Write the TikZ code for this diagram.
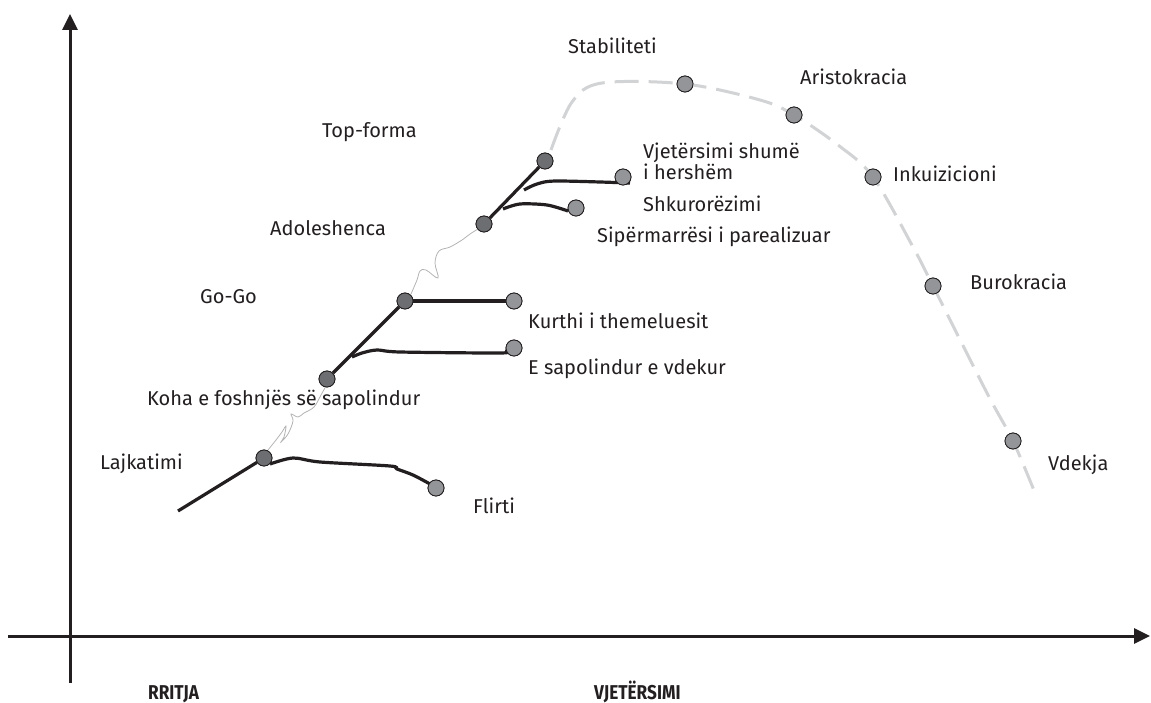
\documentclass[tikz,border=0pt]{standalone}
\usepackage{fontspec}
\usepackage{graphicx}
\setmainfont{Fira Sans}
\usetikzlibrary{arrows.meta}
\definecolor{ink}{HTML}{231F20}
\definecolor{darkdot}{HTML}{6D6E71}
\definecolor{lightdot}{HTML}{939598}
\definecolor{dashgray}{HTML}{D1D3D4}
\definecolor{wavegray}{HTML}{B3B3B3}
\tikzset{
  lbl/.style={anchor=west, inner sep=0pt, text height=14pt, text depth=0pt, text=ink, font=\fontsize{20}{21}\selectfont},
  bold/.style={lbl, font=\fontsize{20}{21}\selectfont\bfseries},
  ddot/.style={circle, draw=ink, line width=0.8pt, fill=darkdot, minimum size=16pt, inner sep=0pt},
  ldot/.style={circle, draw=ink, line width=0.8pt, fill=lightdot, minimum size=16pt, inner sep=0pt},
  axis/.style={ink, line width=3pt, -{Triangle[length=16pt,width=15pt]}},
  thick black/.style={ink, line width=3.2pt},
  wave/.style={wavegray, line width=0.8pt},
  lifecurve/.style={dashgray, line width=3pt, dash pattern=on 24pt off 10pt},
}
\begin{document}
\begin{tikzpicture}[x=1pt,y=-1pt]
\useasboundingbox (0,0) rectangle (1151,703);
% axes
\coordinate (yb) at (70,683);
\coordinate (yt) at (70,14);
\coordinate (xl) at (8,636);
\coordinate (xr) at (1150,636);
\draw[axis] (yb) -- (yt);
\draw[axis] (xl) -- (xr);

% dots
\node[ddot] (laj) at (264,458) {};
\node[ldot] (flirt) at (436,488) {};
\node[ddot] (koha) at (327,379) {};
\node[ldot] (sap) at (514,348) {};
\node[ddot] (gogo) at (405,301) {};
\node[ldot] (kurth) at (514,301) {};
\node[ddot] (adol) at (484,224) {};
\node[ldot] (shk) at (576,208) {};
\node[ddot] (top) at (545,161) {};
\node[ldot] (vj) at (623,177) {};
\node[ldot] (stab) at (685,84) {};
\node[ldot] (arist) at (794,115) {};
\node[ldot] (ink) at (873,177) {};
\node[ldot] (bur) at (933,286) {};
\node[ldot] (vd) at (1013,441) {};

% intermediate coordinates
\coordinate (lstart) at (178,511);
\coordinate (c1) at (572,102);
\coordinate (c2) at (602,83);
\coordinate (c3) at (760,100);
\coordinate (c4) at (838,145);
\coordinate (c5) at (913,247);
\coordinate (c6) at (987,393);
\coordinate (cend) at (1035,493);

% dashed life curve
\draw[lifecurve] plot[smooth, tension=0.55] coordinates {(551,150) (c1) (c2) (stab) (c3) (arist) (c4) (ink) (c5) (bur) (c6) (vd) (cend)};

% wavy lines
\draw[wave] plot[smooth, tension=0.6] coordinates {(268,450) (276,440) (282,432) (286,426) (284,437) (281,442) (288,434) (293,421) (291,414) (298,417) (304,413) (314,407) (321,395) (326,386)};
\draw[wave] plot[smooth, tension=0.6] coordinates {(411,294) (417,280) (420,271) (426,270) (438,278) (435,263) (439,251) (450,247) (462,240) (470,234) (478,229)};

% black branches
\draw[thick black] (lstart) -- (laj);
\draw[thick black] plot[smooth, tension=0.5] coordinates {(270,464) (293,458) (320,462) (390,466) (397,469) (413,475) (430,484)};
\draw[thick black] (koha) -- (gogo);
\draw[thick black] plot[smooth, tension=0.5] coordinates {(352,357) (362,353) (377,350) (400,352) (500,353) (505,351)};
\draw[thick black] (gogo) -- (kurth);
\draw[thick black] (adol) -- (top);
\draw[thick black] plot[smooth, tension=0.5] coordinates {(503,209) (520,204) (547,205) (568,211)};
\draw[thick black] plot[smooth, tension=0.5] coordinates {(524,190) (537,184) (557,181) (630,183)};

% redraw dots on top of the lines
\foreach \n/\s in {laj/ddot, flirt/ldot, koha/ddot, sap/ldot, gogo/ddot, kurth/ldot, adol/ddot, shk/ldot, top/ddot, vj/ldot, stab/ldot, arist/ldot, ink/ldot, bur/ldot, vd/ldot}
  \node[\s] at (\n) {};

% labels
\node[lbl] (tStab) at (568,47) {Stabiliteti};
\node[lbl] (tArist) at (800,78) {Aristokracia};
\node[lbl] (tTop) at (322,131) {Top-forma};
\node[lbl] (tVj1) at (643,152) {Vjetërsimi shumë};
\node[lbl] (tVj2) at (643,173) {i hershëm};
\node[lbl] (tInk) at (893,175) {Inkuizicioni};
\node[lbl] (tShk) at (643,205) {Shkurorëzimi};
\node[lbl] (tAdol) at (270,229) {Adoleshenca};
\node[lbl] (tSip) at (597,236) {Sipërmarrësi i parealizuar};
\node[lbl] (tBur) at (970,283) {Burokracia};
\node[lbl] (tGo) at (200,297) {Go-Go};
\node[lbl] (tKurth) at (528,321) {Kurthi i themeluesit};
\node[lbl] (tSap) at (528,367) {E sapolindur e vdekur};
\node[lbl] (tKoha) at (147,398) {Koha e foshnjës së sapolindur};
\node[lbl] (tLaj) at (100,462) {Lajkatimi};
\node[lbl] (tVd) at (1048,463) {Vdekja};
\node[lbl] (tFlirt) at (473,506) {Flirti};
\node[bold] (tRritja) at (148,692) {\scalebox{0.86}[1]{RRITJA}};
\node[bold] (tVjet) at (594,692) {\scalebox{0.86}[1]{VJETËRSIMI}};
\end{tikzpicture}
\end{document}
